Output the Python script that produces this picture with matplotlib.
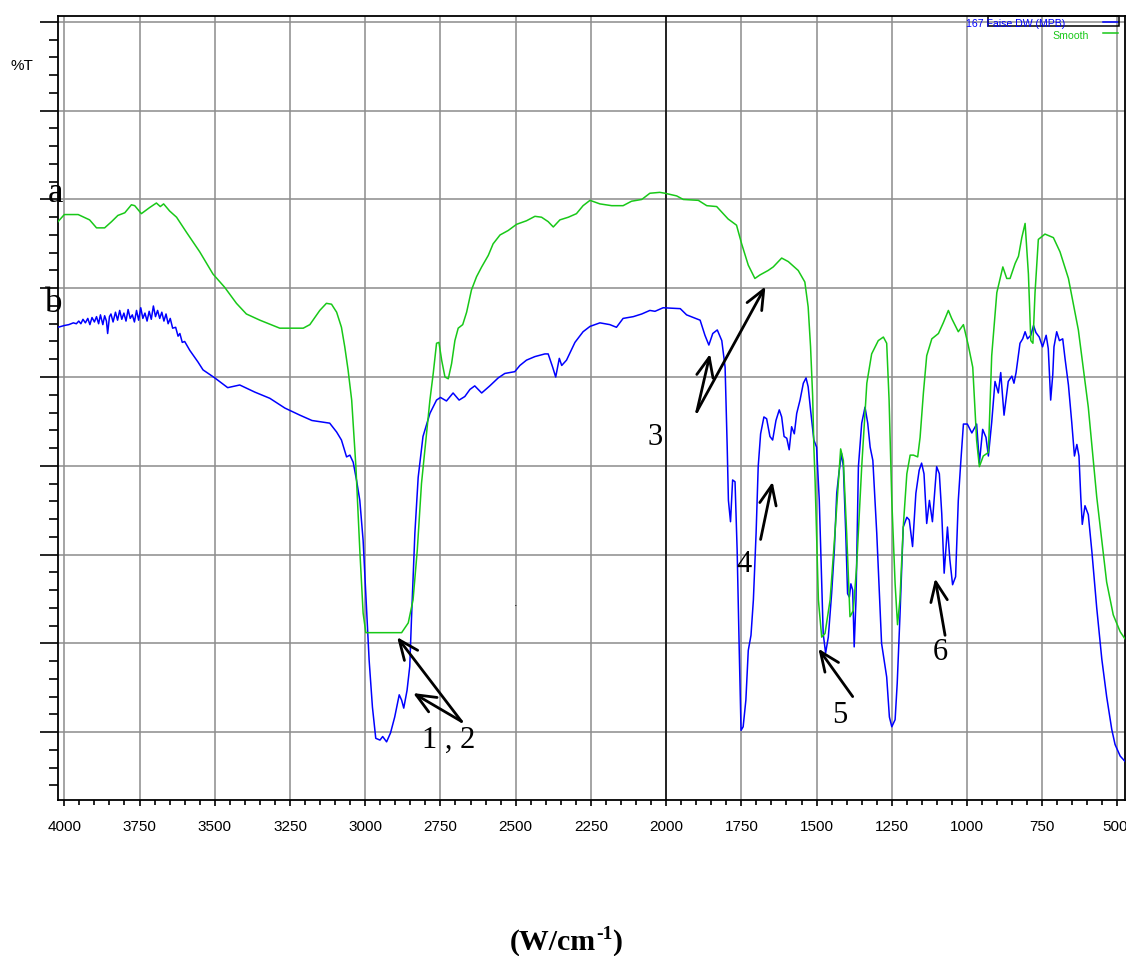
import matplotlib
matplotlib.use("Agg")
import matplotlib.pyplot as plt
from matplotlib.ticker import MultipleLocator, FuncFormatter
from matplotlib.patches import Rectangle
from matplotlib.transforms import blended_transform_factory

# ---- data (wavenumber, %T in grid units) ----
smooth_wn = [4021, 4000, 3954, 3916, 3893, 3866, 3843, 3822, 3799, 3777, 3766, 3744,
             3716, 3694, 3681, 3670, 3650, 3627, 3594, 3550, 3506, 3467, 3428, 3395,
             3350, 3306, 3284, 3206, 3184, 3151, 3129, 3112, 3095, 3079, 3068, 3057,
             3045, 3031, 3018, 3007, 2998, 2879, 2857, 2841, 2827, 2813, 2796, 2785,
             2774, 2763, 2755, 2746, 2735, 2724, 2713, 2702, 2691, 2676, 2663, 2647,
             2630, 2613, 2591, 2575, 2552, 2525, 2497, 2464, 2436, 2414, 2392, 2375,
             2353, 2325, 2298, 2276, 2253, 2220, 2181, 2143, 2115, 2081, 2054, 2021,
             2004, 1965, 1943, 1893, 1865, 1832, 1794, 1766, 1749, 1727, 1705, 1688,
             1661, 1644, 1616, 1594, 1561, 1539, 1528, 1520, 1513, 1509, 1505, 1500,
             1494, 1483, 1472, 1455, 1439, 1428, 1420, 1411, 1400, 1389, 1378, 1367,
             1350, 1333, 1317, 1295, 1278, 1267, 1259, 1250, 1239, 1231, 1223, 1212,
             1200, 1189, 1178, 1164, 1156, 1145, 1134, 1117, 1095, 1079, 1062, 1051,
             1029, 1012, 996, 981, 968, 959, 946, 929, 918, 901, 881, 868, 857, 840,
             829, 818, 807, 796, 788, 781, 774, 763, 741, 713, 691, 663, 630, 597,
             569, 536, 514, 491, 475]
smooth_t = [67.5, 68.3, 68.3, 67.7, 66.8, 66.8, 67.5, 68.2, 68.5, 69.4, 69.3, 68.4,
            69.1, 69.6, 69.2, 69.5, 68.7, 68.0, 66.3, 64.1, 61.6, 60.1, 58.3, 57.1,
            56.4, 55.8, 55.5, 55.5, 55.9, 57.5, 58.3, 58.2, 57.3, 55.6, 53.4, 50.8,
            47.4, 39.9, 30.5, 23.4, 21.2, 21.2, 22.3, 24.9, 30.5, 38.0, 43.7, 47.4,
            50.4, 53.8, 53.9, 51.9, 50.0, 49.8, 51.5, 54.1, 55.5, 55.9, 57.3, 59.8,
            61.3, 62.4, 63.7, 65.0, 66.0, 66.5, 67.2, 67.6, 68.1, 68.0, 67.5, 66.9,
            67.7, 68.0, 68.4, 69.3, 69.9, 69.5, 69.3, 69.3, 69.8, 70.0, 70.7, 70.8,
            70.7, 70.4, 70.0, 69.9, 69.3, 69.2, 67.8, 67.1, 65.0, 62.6, 61.1, 61.5,
            62.0, 62.4, 63.4, 63.0, 62.0, 60.7, 57.9, 53.4, 47.8, 42.1, 38.4, 32.4,
            24.9, 20.7, 21.1, 24.9, 32.4, 38.0, 41.9, 40.6, 32.4, 23.0, 23.7, 28.6,
            39.9, 49.3, 52.6, 54.1, 54.5, 53.8, 47.4, 36.1, 26.7, 22.1, 24.9, 33.1,
            39.1, 41.2, 41.2, 41.0, 43.2, 48.2, 52.4, 54.3, 54.9, 56.1, 57.5, 56.6,
            55.1, 55.9, 53.6, 51.1, 42.8, 39.9, 41.1, 41.5, 52.4, 59.5, 62.4, 61.1, 61.1, 62.8,
            63.6, 65.7, 67.3, 61.6, 54.1, 53.8, 59.5, 65.5, 66.1, 65.7, 64.1, 61.1, 55.3, 46.6,
            36.5, 26.9, 23.2, 21.3, 20.5]

sample_wn = [4021, 4000, 3985, 3970, 3960, 3952, 3945, 3938, 3930, 3922, 3915, 3908,
             3900, 3893, 3886, 3880, 3872, 3866, 3860, 3856, 3850, 3845, 3838, 3830,
             3823, 3816, 3809, 3802, 3795, 3788, 3781, 3774, 3767, 3760, 3753, 3746,
             3739, 3732, 3725, 3718, 3711, 3704, 3697, 3690, 3683, 3676, 3669, 3662,
             3655, 3648, 3640, 3630, 3622, 3616, 3608, 3600, 3583, 3556, 3539, 3500,
             3457, 3417, 3367, 3317, 3267, 3217, 3177, 3118, 3095, 3079, 3062, 3051,
             3040, 3029, 3018, 3007, 2996, 2987, 2976, 2965, 2951, 2942, 2929, 2916,
             2902, 2887, 2879, 2872, 2861, 2852, 2846, 2835, 2824, 2808, 2785, 2763,
             2750, 2730, 2708, 2688, 2669, 2652, 2636, 2613, 2586, 2558, 2536, 2503,
             2486, 2464, 2436, 2403, 2392, 2377, 2367, 2355, 2347, 2331, 2303, 2276,
             2253, 2220, 2187, 2165, 2143, 2109, 2081, 2054, 2037, 2010, 1953, 1932,
             1887, 1871, 1858, 1845, 1830, 1815, 1804, 1797, 1793, 1786, 1779, 1771,
             1764, 1757, 1751, 1744, 1735, 1727, 1718, 1710, 1701, 1694, 1686, 1675,
             1666, 1655, 1646, 1635, 1624, 1616, 1608, 1599, 1591, 1583, 1574, 1566,
             1555, 1544, 1535, 1528, 1520, 1509, 1500, 1491, 1483, 1478, 1470, 1461,
             1450, 1441, 1433, 1426, 1417, 1411, 1403, 1397, 1391, 1386, 1380, 1375,
             1369, 1361, 1350, 1339, 1330, 1322, 1313, 1300, 1284, 1267, 1258, 1250,
             1239, 1232, 1223, 1212, 1200, 1192, 1181, 1170, 1159, 1151, 1143, 1134,
             1125, 1115, 1101, 1092, 1084, 1076, 1065, 1057, 1048, 1038, 1029, 1021,
             1012, 999, 984, 968, 959, 948, 937, 929, 918, 907, 896, 888, 877, 863,
             851, 844, 837, 824, 815, 807, 799, 788, 779, 771, 760, 749, 737, 730,
             722, 715, 711, 702, 693, 682, 674, 663, 652, 643, 635, 628, 622, 617,
             608, 597, 585, 569, 552, 536, 519, 508, 491, 475]
sample_t = [55.6, 55.8, 55.9, 56.1, 56.0, 56.3, 56.0, 56.5, 56.1, 56.6, 55.9, 56.7,
            56.2, 56.8, 56.0, 57.0, 55.9, 56.9, 56.3, 54.9, 56.8, 57.1, 56.2, 57.3,
            56.4, 57.5, 56.5, 57.2, 56.3, 57.6, 56.6, 57.0, 56.2, 57.5, 56.4, 57.8,
            56.6, 57.2, 56.3, 57.4, 56.5, 58.0, 56.8, 57.5, 56.6, 57.3, 56.3, 57.1,
            56.0, 56.6, 55.5, 55.6, 54.6, 54.9, 53.9, 54.0, 53.0, 51.7, 50.8, 49.9,
            48.8, 49.1, 48.3, 47.6, 46.5, 45.7, 45.1, 44.8, 43.8, 42.9, 41.0, 41.2,
            40.4, 38.4, 36.1, 31.6, 24.1, 18.1, 12.8, 9.3, 9.1, 9.5, 8.9, 9.9,
            11.7, 14.2, 13.6, 12.7, 14.7, 17.4, 23.0, 32.4, 38.7, 43.3, 45.9, 47.4,
            47.7, 47.3, 48.2, 47.4, 47.8, 48.6, 49.0, 48.2, 49.0, 49.9, 50.4, 50.6,
            51.3, 51.9, 52.3, 52.6, 52.6, 51.1, 50.0, 52.1, 51.3, 51.9, 53.9, 55.1,
            55.7, 56.1, 55.9, 55.6, 56.6, 56.8, 57.1, 57.5, 57.4, 57.8, 57.7, 57.0,
            56.4, 54.7, 53.6, 54.9, 55.3, 54.1, 51.1, 42.1, 36.1, 33.7, 38.4, 38.2,
            30.5, 19.2, 10.2, 10.6, 13.6, 19.2, 20.9, 24.9, 32.4, 39.9, 43.6, 45.5,
            45.3, 43.3, 42.9, 45.1, 46.3, 45.5, 43.3, 43.1, 41.8, 44.4, 43.6, 45.9,
            47.4, 49.3, 49.9, 48.9, 46.3, 42.9, 42.1, 36.1, 26.7, 21.1, 18.9, 20.7,
            25.6, 30.5, 36.9, 39.1, 41.4, 39.9, 32.4, 25.6, 25.2, 26.7, 26.0, 19.6,
            24.9, 39.9, 44.8, 46.6, 44.8, 42.1, 40.6, 32.4, 20.0, 16.2, 11.7, 10.6,
            11.4, 15.5, 23.0, 33.1, 34.2, 33.9, 30.9, 36.9, 39.5, 40.3, 39.1, 33.5,
            36.1, 33.7, 39.9, 39.1, 34.6, 27.9, 33.1, 29.4, 26.6, 27.5, 36.1, 40.3,
            44.7, 44.7, 43.7, 44.7, 40.3, 44.1, 43.2, 41.1, 44.9, 49.5, 48.2, 50.5, 45.7, 49.5,
            50.1, 49.3, 50.5, 53.8, 54.3, 55.1, 54.3, 54.7, 55.8, 55.0, 54.5, 53.4, 54.7, 53.2,
            47.4, 50.3, 53.4, 55.1, 54.1, 54.3, 52.0, 49.1, 44.9, 41.1, 42.4, 41.1, 36.5, 33.4,
            35.5, 34.5, 30.3, 24.0, 18.2, 14.0, 10.3, 8.6, 7.3, 6.7]

# band labels: (text, label position in wavenumber / %T, arrow tail, arrow heads)
band_labels = ["1 , 2", "3", "4", "5", "6"]
label_pos = [(2722, 8.2), (2038, 42.3), (1741, 28.0), (1422, 11.0), (1090, 18.1)]
arrow_tails = [(2680, 11.2), (1898, 46.1), (1686, 31.7), (1380, 14.0), (1073, 20.9)]
arrow_heads = [[(2894, 20.7), (2841, 14.4)], [(1670, 60.2), (1854, 52.6)],
               [(1646, 38.2)], [(1494, 19.4)], [(1106, 27.3)]]

narrow = ["Liberation Sans Narrow", "Liberation Sans", "DejaVu Sans"]
serif = ["Liberation Serif", "DejaVu Serif"]

fig = plt.figure(figsize=(11.26, 9.56), dpi=100)
ax = fig.add_axes([58 / 1126, 1 - 800 / 956, 1067 / 1126, 784.3 / 956])

ax.plot(sample_wn, sample_t, color="#0000ff", lw=1.1, zorder=3)
ax.plot(smooth_wn, smooth_t, color="#18c818", lw=1.1, zorder=3)

ax.set_xlim(4021, 475)
ax.set_ylim(2.35, 90.7)

ax.xaxis.set_major_locator(MultipleLocator(250))
ax.xaxis.set_minor_locator(MultipleLocator(50))
ax.yaxis.set_major_locator(MultipleLocator(10))
ax.yaxis.set_minor_locator(MultipleLocator(2))
# last label (500) sits at the figure edge, it is drawn separately below
ax.xaxis.set_major_formatter(FuncFormatter(lambda v, p: "" if v < 600 else f"{v:.0f}"))
ax.tick_params(axis="y", which="major", direction="out", length=13, width=1.2, labelleft=False)
ax.tick_params(axis="y", which="minor", direction="out", length=6.5, width=1.2)
ax.tick_params(axis="x", which="major", direction="out", length=4.5, width=1.2, pad=10)
ax.tick_params(axis="x", which="minor", direction="out", length=3.8, width=1.2)
for lab in ax.get_xticklabels():
    lab.set_family(narrow)
    lab.set_fontsize(11)
bt = blended_transform_factory(ax.transData, ax.transAxes)
ax.text(508, -0.0345, "500", transform=bt, family=narrow, fontsize=11,
        ha="center", va="center", clip_on=False)

ax.grid(True, which="major", color="#8c8c8c", lw=1.1)
ax.set_axisbelow(True)
ax.axvline(2000, color="black", lw=1.1, zorder=1)
for sp in ax.spines.values():
    sp.set_linewidth(1.3)

# legend block copied from the instrument printout
ax.add_patch(Rectangle((0.8716, 0.9869), 0.1228, 0.0131, transform=ax.transAxes,
                       fill=False, ec="black", lw=1.1, clip_on=False, zorder=5))
ax.text(0.851, 0.9894, "167 Faise DW (MPB)", transform=ax.transAxes, color="#0000ff",
        fontsize=7.6, family=narrow, va="center", ha="left", zorder=6)
ax.text(0.9316, 0.9741, "Smooth", transform=ax.transAxes, color="#18c818",
        fontsize=7.6, family=narrow, va="center", ha="left", zorder=6)
ax.plot([0.9794, 0.9934], [0.992, 0.992], transform=ax.transAxes, color="#0000ff", lw=1.1)
ax.plot([0.9794, 0.9934], [0.978, 0.978], transform=ax.transAxes, color="#18c818", lw=1.1)

fig.text(22 / 1126, 1 - 66 / 956, "%T", fontsize=11, family=narrow, va="center", ha="center")

ax.text(-0.002, 0.7625, "a", transform=ax.transAxes, fontsize=25, family=serif,
        ha="center", va="baseline", clip_on=False)
ax.text(-0.004, 0.6226, "b", transform=ax.transAxes, fontsize=25, family=serif,
        ha="center", va="baseline", clip_on=False)

for txt, pos, tail, heads in zip(band_labels, label_pos, arrow_tails, arrow_heads):
    ax.text(pos[0], pos[1], txt, fontsize=22, family=serif, ha="center", va="baseline")
    for head in heads:
        ax.annotate("", xy=head, xytext=tail,
                    arrowprops=dict(arrowstyle="->,head_length=0.7,head_width=0.3",
                                    color="black", lw=2, shrinkA=0, shrinkB=0,
                                    mutation_scale=20))

ax.text(2500, 24.2, ".", fontsize=8, ha="center")

# x label "(W/cm-1)" with a raised "-1", built from three bold serif pieces
renderer = fig.canvas.get_renderer()
base_y = 1 - 950 / 956
t1 = fig.text(510 / 1126, base_y, "(W/cm", fontsize=21.5, family=serif,
              weight="bold", ha="left", va="baseline")
x1 = t1.get_window_extent(renderer).x1 / fig.bbox.width
t2 = fig.text(x1, base_y + 11 / 956, "-1", fontsize=14, family=serif,
              weight="bold", ha="left", va="baseline")
x2 = t2.get_window_extent(renderer).x1 / fig.bbox.width
fig.text(x2, base_y, ")", fontsize=21.5, family=serif, weight="bold",
         ha="left", va="baseline")

fig.savefig("out.png", dpi=100)
